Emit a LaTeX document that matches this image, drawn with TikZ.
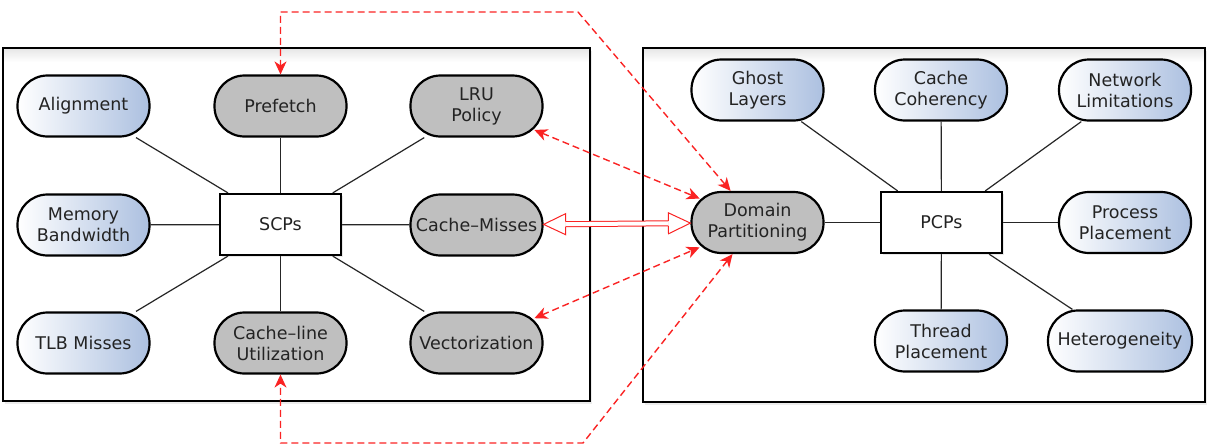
\documentclass[tikz,border=0pt]{standalone}
\usepackage{fontspec}
\setsansfont{DejaVu Sans}
\usetikzlibrary{arrows.meta,shadows,backgrounds}
\definecolor{nodeblue}{RGB}{172,192,224}
\definecolor{txt}{RGB}{35,35,35}
\definecolor{arrred}{RGB}{250,35,35}
\pgfdeclarearrow{
  name = HollowHead,
  cache = false,
  parameters = {\the\pgfarrowlength,\the\pgfarrowwidth},
  setup code = {
    \pgfarrowssettipend{\pgfarrowlength}
    \pgfarrowssetlineend{0.3pt}
    \pgfarrowssetbackend{0pt}
    \pgfarrowssavethe\pgfarrowlength
    \pgfarrowssavethe\pgfarrowwidth
  },
  drawing code = {
    \pgfsetlinewidth{1pt}
    \pgfsetmiterjoin
    \pgfpathmoveto{\pgfqpoint{\pgfarrowlength}{0pt}}
    \pgfpathlineto{\pgfqpoint{0pt}{.5\pgfarrowwidth}}
    \pgfpathlineto{\pgfqpoint{0pt}{-.5\pgfarrowwidth}}
    \pgfpathclose
    \pgfsetfillcolor{white}
    \pgfusepathqfill
    \pgfpathmoveto{\pgfqpoint{0pt}{2.5pt}}
    \pgfpathlineto{\pgfqpoint{0pt}{.5\pgfarrowwidth}}
    \pgfpathlineto{\pgfqpoint{\pgfarrowlength}{0pt}}
    \pgfpathlineto{\pgfqpoint{0pt}{-.5\pgfarrowwidth}}
    \pgfpathlineto{\pgfqpoint{0pt}{-2.5pt}}
    \pgfusepathqstroke
  },
  defaults = {length=22pt, width=21pt}
}
\begin{document}
\begin{tikzpicture}[x=1pt,y=-1pt,
  every node/.style={font=\sffamily\fontsize{17.5}{21}\selectfont, text=txt},
  param/.style={draw=black, line width=2.2pt, rectangle, rounded corners=30pt,
    minimum width=132pt, minimum height=61pt, inner sep=2pt, align=center},
  blueparam/.style={param, left color=white, right color=nodeblue},
  grayparam/.style={param, fill=black!25},
  hub/.style={draw=black, line width=2.2pt, fill=white, minimum width=121pt,
    minimum height=61pt, drop shadow={opacity=0.18, shadow xshift=2pt, shadow yshift=-2pt}},
  panel/.style={draw=black, line width=2.6pt, fill=white,
    drop shadow={opacity=0.15, shadow xshift=1.5pt, shadow yshift=-3pt}},
  panelglow/.style={top color=black!9, bottom color=white},
  link/.style={draw=black!85, line width=1.2pt},
  redtip/.tip={Stealth[length=13pt, width=12pt, inset=4pt]},
  redlink/.style={draw=arrred, line width=1.4pt, dash pattern=on 7pt off 4pt, redtip-redtip},
  bigarrow/.style={draw=arrred, line width=1pt, double=white, double distance=4pt,
    HollowHead-HollowHead},
]
\useasboundingbox (0,0) rectangle (1207,445);

% panels
\begin{pgfonlayer}{background}
\draw[panel] (3,48) rectangle (590,401);
\draw[panel] (643,48) rectangle (1205,402);
\shade[panelglow] (4.3,49.3) rectangle (588.7,62);
\shade[panelglow] (644.3,49.3) rectangle (1203.7,62);
\end{pgfonlayer}

% left panel nodes
\node[blueparam] (al)  at (83.5,106) {Alignment};
\node[grayparam] (pf)  at (280.5,106) {Prefetch};
\node[grayparam] (lru) at (476.5,106) {LRU\\Policy};
\node[blueparam] (mb)  at (83.5,225) {Memory\\Bandwidth};
\node[hub]       (scp) at (280.5,224.5) {SCPs};
\node[grayparam] (cm)  at (476.5,225) {Cache–Misses};
\node[blueparam] (tlb) at (83.5,343) {TLB Misses};
\node[grayparam] (cl)  at (280.5,343) {Cache–line\\Utilization};
\node[grayparam] (vec) at (476.5,343) {Vectorization};

% right panel nodes
\node[blueparam] (gl)  at (757.5,90) {Ghost\\Layers};
\node[blueparam] (cc)  at (941,90) {Cache\\Coherency};
\node[blueparam] (nl)  at (1125,90) {Network\\Limitations};
\node[grayparam] (dp)  at (757.5,222.5) {Domain\\Partitioning};
\node[hub]       (pcp) at (941.5,222.5) {PCPs};
\node[blueparam] (pp)  at (1125,222.5) {Process\\Placement};
\node[blueparam] (tp)  at (941,341) {Thread\\Placement};
\node[blueparam, minimum width=144pt] (het) at (1120,341) {Heterogeneity};

% black links behind nodes
\begin{pgfonlayer}{background}
\foreach \n in {al,pf,lru,mb,cm,tlb,cl,vec}{\draw[link] (scp) -- (\n);}
\foreach \n in {gl,cc,nl,dp,pp,tp,het}{\draw[link] (pcp) -- (\n);}
\end{pgfonlayer}

% red relations
\coordinate (tA) at (578,12);
\coordinate (tB) at (280.5,12);
\coordinate (bA) at (583,443);
\coordinate (bB) at (280.5,443);
\draw[redlink] (dp) -- (tA) -- (tB) -- (pf);
\draw[redlink] (dp) -- (bA) -- (bB) -- (cl);
\draw[redlink, shorten <=-10pt, shorten >=-10pt] (lru) -- (dp);
\draw[redlink, shorten <=-10pt, shorten >=-10pt] (vec) -- (dp);
\draw[bigarrow] (cm) -- (dp);
\end{tikzpicture}
\end{document}
